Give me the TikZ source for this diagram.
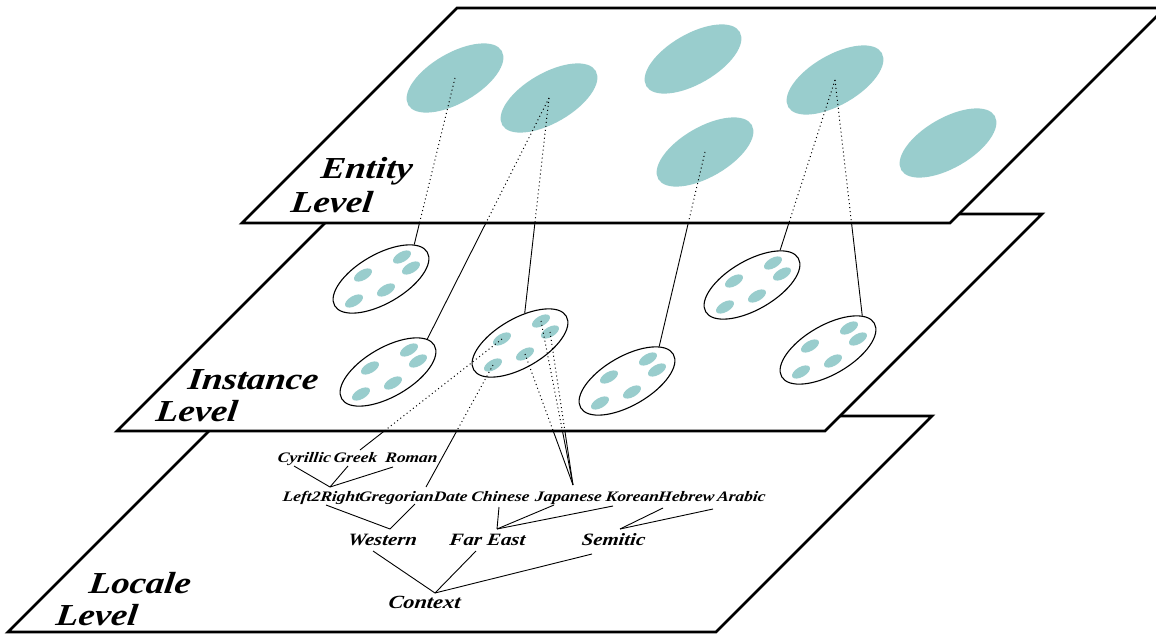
\documentclass[tikz,border=0pt]{standalone}
\usepackage{fontspec}
\newfontfamily\lblfont[FakeStretch=1.2,FakeSlant=0.12]{Liberation Serif}
\usetikzlibrary{shapes.geometric,calc}
\definecolor{tealfill}{RGB}{153,205,205}
\pgfdeclarelayer{L0}\pgfdeclarelayer{L1}\pgfdeclarelayer{L2}\pgfdeclarelayer{L3}
\pgfdeclarelayer{L4}\pgfdeclarelayer{L5}\pgfdeclarelayer{L6}\pgfdeclarelayer{L7}
\pgfsetlayers{L0,L1,L2,L3,L4,L5,L6,L7,main}
\begin{document}
\begin{tikzpicture}[x=1pt,y=-1pt,
  plane/.style={fill=white,draw=black,line width=2.8pt},
  thinln/.style={line width=0.9pt},
  dots/.style={line width=1pt,dash pattern=on 1pt off 3pt},
  ent/.style={ellipse,fill=tealfill,minimum width=108pt,minimum height=50pt,inner sep=0pt,rotate=30},
  inst/.style={ellipse,draw=black,fill=white,line width=1.1pt,minimum width=107pt,minimum height=49pt,inner sep=0pt,rotate=30},
  mini/.style={ellipse,fill=tealfill,minimum width=20pt,minimum height=10pt,inner sep=0pt,rotate=30},
  tl/.style={font=\lblfont\bfseries\itshape\fontsize{14.5}{15}\selectfont,inner sep=0pt,anchor=base},
  tm/.style={font=\lblfont\bfseries\itshape\fontsize{17.3}{18}\selectfont,inner sep=0pt,anchor=base},
  tc/.style={font=\lblfont\bfseries\itshape\fontsize{18.6}{19}\selectfont,inner sep=0pt,anchor=base},
  lvl/.style={font=\lblfont\bfseries\itshape\fontsize{30.5}{31}\selectfont,inner sep=0pt,anchor=base west}]
\useasboundingbox (0,0) rectangle (1156,634);

% ---------- Locale level ----------
\begin{pgfonlayer}{L0}
  \draw[plane] (8,632) -- (224,416) -- (932,416) -- (716,632) -- cycle;
\end{pgfonlayer}
\begin{pgfonlayer}{L1}
  \node[tl] (cyr)  at (304,462) {Cyrillic};
  \node[tl] (gre)  at (355,462) {Greek};
  \node[tl] (rom)  at (411,462) {Roman};
  \node[tl] (l2r)  at (321,501) {Left2Right};
  \node[tl] (greg) at (413,501) {GregorianDate};
  \node[tl] (chi)  at (500,501) {Chinese};
  \node[tl] (jap)  at (568,501) {Japanese};
  \node[tl] (kor)  at (632,501) {Korean};
  \node[tl] (heb)  at (686,501) {Hebrew};
  \node[tl] (ara)  at (741,501) {Arabic};
  \node[tm] (wes)  at (382,545) {Western};
  \node[tm] (far)  at (487,545) {Far East};
  \node[tm] (sem)  at (613,545) {Semitic};
  \node[tc] (ctx)  at (424,608) {Context};
  \node[lvl] (locA) at (88,593) {Locale};
  \node[lvl] (locB) at (55,625) {Level};
\end{pgfonlayer}

% ---------- Instance level ----------
\begin{pgfonlayer}{L2}
  \draw[plane] (117,431) -- (334,214) -- (1042,214) -- (825,431) -- cycle;
\end{pgfonlayer}
\begin{pgfonlayer}{L3}
  \foreach \n/\x/\y in {I1/381/279, I2/388/372, I3/520/343, I4/627/381, I5/752/285, I6/828/350} {
    \node[inst] (\n) at (\x,\y) {};
    \node[mini] (\n-a) at ($(\n)+(21,-22)$) {};
    \node[mini] (\n-b) at ($(\n)+(30,-11)$) {};
    \node[mini] (\n-c) at ($(\n)+(-18,-4)$) {};
    \node[mini] (\n-d) at ($(\n)+(5,11)$) {};
    \node[mini] (\n-e) at ($(\n)+(-27,22)$) {};
  }
  \node[lvl] (insA) at (187,389) {Instance};
  \node[lvl] (insB) at (155,421) {Level};
\end{pgfonlayer}

% ---------- Entity level ----------
\begin{pgfonlayer}{L5}
  \draw[plane] (242,223) -- (457,8) -- (1165,8) -- (950,223) -- cycle;
\end{pgfonlayer}
\begin{pgfonlayer}{L6}
  \node[ent] (E1) at (455,78) {};
  \node[ent] (E2) at (549,98) {};
  \node[ent] (E3) at (693,59) {};
  \node[ent] (E4) at (705,152) {};
  \node[ent] (E5) at (835,80) {};
  \node[ent] (E6) at (948,143) {};
\end{pgfonlayer}
\begin{pgfonlayer}{L7}
  \node[lvl] (entA) at (320,178) {Entity};
  \node[lvl] (entB) at (290,212) {Level};
\end{pgfonlayer}

% ---------- tree connectors ----------
\begin{pgfonlayer}{L1}
  \draw[thinln] ($(cyr.base)+(-10,4)$) -- ($(l2r.base)+(9,-14)$);
  \draw[thinln] ($(gre.base)+(-7,4)$) -- ($(l2r.base)+(9,-14)$);
  \draw[thinln] ($(rom.base)+(-18,5)$) -- ($(l2r.base)+(9,-14)$);
  \draw[thinln] ($(l2r.base)+(5,4)$) -- ($(wes.base)+(8,-16)$);
  \draw[thinln] ($(greg.base)+(2,3)$) -- ($(wes.base)+(8,-16)$);
  \draw[thinln] ($(chi.base)+(-1,6)$) -- ($(far.base)+(10,-16)$);
  \draw[thinln] ($(jap.base)+(-14,4)$) -- ($(far.base)+(10,-16)$);
  \draw[thinln] ($(kor.base)+(-19,5)$) -- ($(far.base)+(10,-16)$);
  \draw[thinln] ($(heb.base)+(-23,7)$) -- ($(sem.base)+(7,-16)$);
  \draw[thinln] ($(ara.base)+(-28,8)$) -- ($(sem.base)+(7,-16)$);
  \draw[thinln] ($(wes.base)+(-9,6)$) -- ($(ctx.base)+(11,-15)$);
  \draw[thinln] ($(far.base)+(-11,6)$) -- ($(ctx.base)+(11,-15)$);
  \draw[thinln] ($(sem.base)+(-21,9)$) -- ($(ctx.base)+(11,-15)$);
  % instance -> locale (solid parts, upper parts hidden by instance plane)
  \draw[thinln] (I3-c.center) -- ($(gre.base)+(5,-12)$);
  \draw[thinln] (I3-e.center) -- ($(greg.base)+(13,-14)$);
  \draw[thinln] (I3-d.center) -- ($(jap.base)+(5,-16)$);
  \draw[thinln] (I3-a.center) -- ($(jap.base)+(5,-16)$);
  \draw[thinln] (I3-b.center) -- ($(jap.base)+(5,-16)$);
\end{pgfonlayer}

% ---------- instance -> locale dotted parts ; entity -> instance solid parts ----------
\begin{pgfonlayer}{L4}
  \begin{scope}
    \clip (117,431) -- (334,214) -- (1042,214) -- (825,431) -- cycle;
    \draw[dots] (I3-c.center) -- ($(gre.base)+(5,-12)$);
    \draw[dots] (I3-e.center) -- ($(greg.base)+(13,-14)$);
    \draw[dots] (I3-d.center) -- ($(jap.base)+(5,-16)$);
    \draw[dots] (I3-a.center) -- ($(jap.base)+(5,-16)$);
    \draw[dots] (I3-b.center) -- ($(jap.base)+(5,-16)$);
  \end{scope}
  \draw[thinln] (E1.center) -- (I1.16);
  \draw[thinln] (E2.center) -- (I2.10);
  \draw[thinln] (E2.center) -- (I3.51);
  \draw[thinln] (E4.center) -- (I4.17);
  \draw[thinln] (E5.center) -- (I5.21);
  \draw[thinln] (E5.center) -- (I6.15);
\end{pgfonlayer}

% ---------- entity -> instance dotted parts ----------
\begin{pgfonlayer}{L7}
  \begin{scope}
    \clip (242,223) -- (457,8) -- (1165,8) -- (950,223) -- cycle;
    \draw[dots] (E1.center) -- (I1.16);
    \draw[dots] (E2.center) -- (I2.10);
    \draw[dots] (E2.center) -- (I3.51);
    \draw[dots] (E4.center) -- (I4.17);
    \draw[dots] (E5.center) -- (I5.21);
    \draw[dots] (E5.center) -- (I6.15);
  \end{scope}
\end{pgfonlayer}
\end{tikzpicture}
\end{document}
